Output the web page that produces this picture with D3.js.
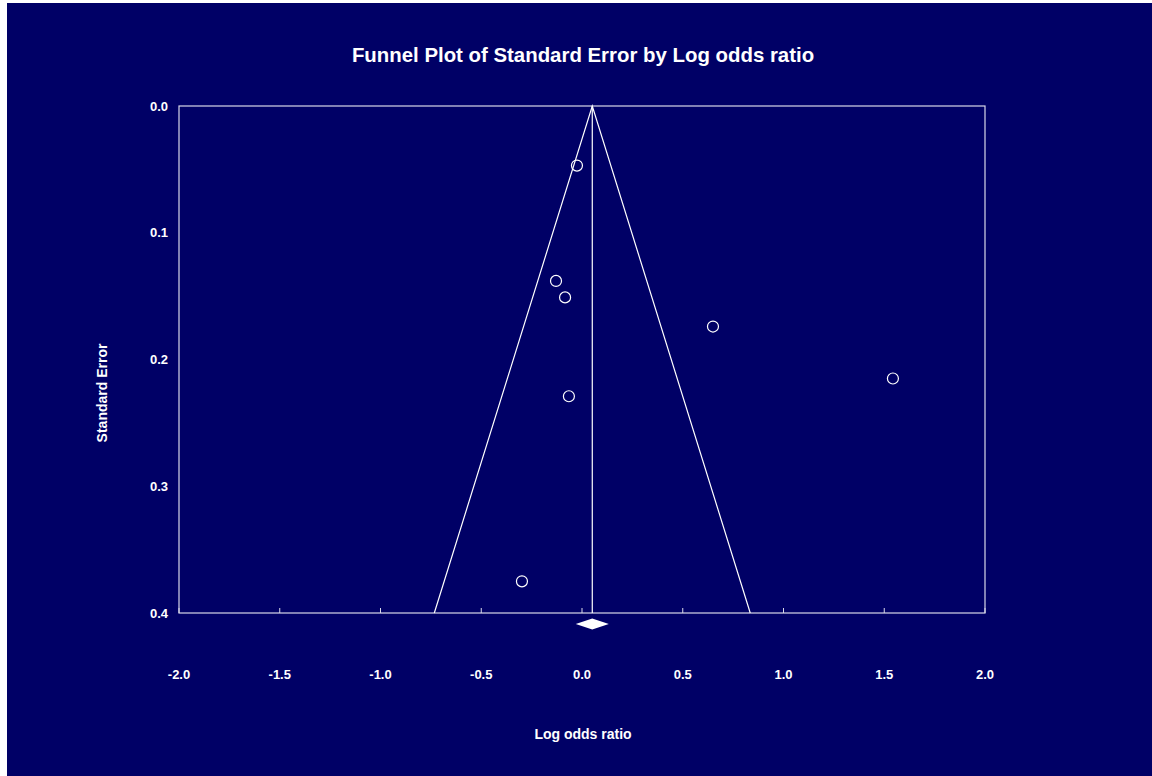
<!DOCTYPE html>
<html>
<head>
<meta charset="utf-8">
<script src="https://cdn.jsdelivr.net/npm/d3@7"></script>
<style>
  html, body { margin: 0; padding: 0; background: #fff; }
  svg { display: block; }
  text { font-family: "Liberation Sans", Arial, sans-serif; font-weight: bold; fill: #fff; }
</style>
</head>
<body>
<div id="chart"></div>
<script>
// studies: log odds ratio and standard error
var logOdds = [-0.025, -0.129, -0.084, 0.650, 1.543, -0.065, -0.298];
var stdErr  = [0.047, 0.138, 0.151, 0.174, 0.215, 0.229, 0.375];
var pooled = 0.051, pooledHalf = 0.082;
var xTicks = [-2.0, -1.5, -1.0, -0.5, 0.0, 0.5, 1.0, 1.5, 2.0];
var yTicks = [0.0, 0.1, 0.2, 0.3, 0.4];

var W = 1152, H = 776;
var m = {left: 179, top: 106, right: 985, bottom: 613};

var svg = d3.select('#chart').append('svg').attr('width', W).attr('height', H);
svg.append('rect').attr('x', 7).attr('y', 3).attr('width', W - 7).attr('height', H - 3).attr('fill', '#000066');

var x = d3.scaleLinear().domain([-2, 2]).range([m.left, m.right]);
var y = d3.scaleLinear().domain([0, 0.4]).range([m.top, m.bottom]);

// plot frame
svg.append('rect').attr('x', m.left).attr('y', m.top)
  .attr('width', m.right - m.left).attr('height', m.bottom - m.top)
  .attr('fill', 'none').attr('stroke', '#d8d8e8').attr('stroke-width', 1.2);

// x ticks (small marks going up) + labels
var g = svg.append('g');
g.selectAll('.xt').data(xTicks).enter().append('line')
  .attr('x1', function(d){return x(d);}).attr('x2', function(d){return x(d);})
  .attr('y1', y(0.4)).attr('y2', y(0.4) - 5)
  .attr('stroke', '#d8d8e8').attr('stroke-width', 1);
g.selectAll('.xl').data(xTicks).enter().append('text')
  .attr('x', function(d){return x(d);}).attr('y', 679)
  .attr('text-anchor', 'middle').style('font-size', '13px')
  .text(function(d){return d.toFixed(1);});
g.selectAll('.yl').data(yTicks).enter().append('text')
  .attr('x', 168).attr('y', function(d){return y(d) + 4.5;})
  .attr('text-anchor', 'end').style('font-size', '13px')
  .text(function(d){return d.toFixed(1);});

// funnel
var funnel = [[pooled - 1.96 * 0.4, 0.4], [pooled, 0], [pooled + 1.96 * 0.4, 0.4]];
svg.append('path')
  .attr('d', d3.line().x(function(d){return x(d[0]);}).y(function(d){return y(d[1]);})(funnel))
  .attr('fill', 'none').attr('stroke', '#fff').attr('stroke-width', 1.2);
svg.append('line')
  .attr('x1', x(pooled)).attr('x2', x(pooled)).attr('y1', y(0)).attr('y2', y(0.4))
  .attr('stroke', '#fff').attr('stroke-width', 1.2);

// points
svg.selectAll('.pt').data(logOdds).enter().append('circle')
  .attr('cx', function(d){return x(d);})
  .attr('cy', function(d, i){return y(stdErr[i]);})
  .attr('r', 5.5).attr('fill', 'none').attr('stroke', '#fff').attr('stroke-width', 1.2);

// pooled diamond
var dy = 624;
svg.append('polygon')
  .attr('points', [[x(pooled - pooledHalf), dy], [x(pooled), dy - 5.5], [x(pooled + pooledHalf), dy], [x(pooled), dy + 5.5]].join(' '))
  .attr('fill', '#fff');

// titles
svg.append('text').attr('x', 583).attr('y', 62).attr('text-anchor', 'middle')
  .style('font-size', '20.4px').text('Funnel Plot of Standard Error by Log odds ratio');
svg.append('text').attr('x', 583).attr('y', 739).attr('text-anchor', 'middle')
  .style('font-size', '14px').text('Log odds ratio');
svg.append('text').attr('transform', 'translate(107,393) rotate(-90)').attr('text-anchor', 'middle')
  .style('font-size', '14px').text('Standard Error');
</script>
</body>
</html>
